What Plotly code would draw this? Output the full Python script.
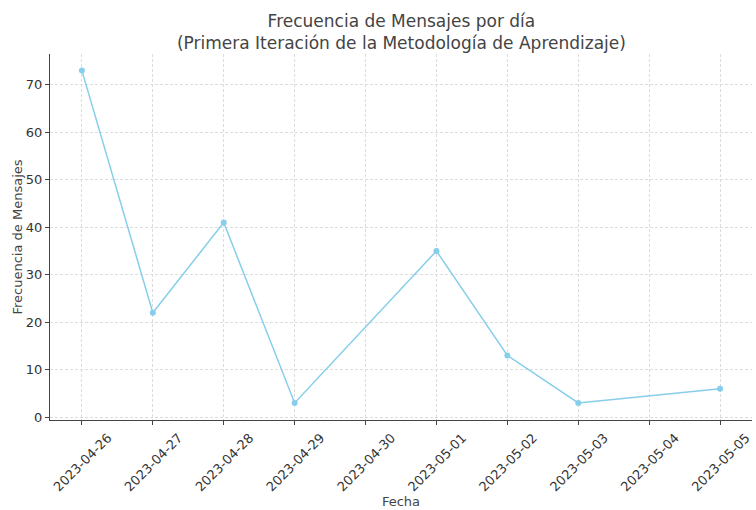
import pandas as pd
import plotly.graph_objects as go

# mensajes por día (04-30 y 05-04 sin datos)
fechas = ["2023-04-26", "2023-04-27", "2023-04-28", "2023-04-29",
          "2023-05-01", "2023-05-02", "2023-05-03", "2023-05-05"]
mensajes = [73, 22, 41, 3, 35, 13, 3, 6]

tick_fechas = ["2023-04-26", "2023-04-27", "2023-04-28", "2023-04-29", "2023-04-30",
               "2023-05-01", "2023-05-02", "2023-05-03", "2023-05-04", "2023-05-05"]
y_ticks = [0, 10, 20, 30, 40, 50, 60, 70]

df = pd.DataFrame({"fecha": pd.to_datetime(fechas), "mensajes": mensajes})

fig = go.Figure()
fig.add_trace(go.Scatter(
    x=df["fecha"],
    y=df["mensajes"],
    mode="lines+markers",
    line=dict(color="#87CEEB", width=1.5),
    marker=dict(color="#87CEEB", size=6),
    showlegend=False
))

start = pd.Timestamp("2023-04-26") - pd.Timedelta(hours=10.8)
end = pd.Timestamp("2023-05-05") + pd.Timedelta(hours=10.8)

axis_font = dict(family="DejaVu Sans", size=13, color="#333333")
title_font = dict(family="DejaVu Sans", size=13, color="#444444")
fig.update_layout(
    width=756,
    height=510,
    paper_bgcolor="white",
    plot_bgcolor="white",
    font=dict(family="DejaVu Sans", color="#333333"),
    title=dict(
        text="Frecuencia de Mensajes por día<br>(Primera Iteración de la Metodología de Aprendizaje)",
        x=0.531, xanchor="center", y=0.947, yanchor="top",
        font=dict(family="DejaVu Sans", size=17, color="#444444")
    ),
    margin=dict(l=50, r=4, t=54, b=90),
    xaxis=dict(
        type="date",
        range=[start, end],
        tickvals=pd.to_datetime(tick_fechas),
        ticktext=tick_fechas,
        tickangle=-45,
        ticklabelshift=26,
        tickfont=axis_font,
        automargin=False,
        ticks="outside", ticklen=4, tickcolor="#444444",
        showline=True, linecolor="#444444", linewidth=1.3,
        showgrid=True, gridcolor="#dcdcdc", griddash="3px,2px", gridwidth=0.8,
        zeroline=False,
        title=dict(text="Fecha", font=title_font, standoff=0)
    ),
    yaxis=dict(
        range=[-0.6, 76.5],
        tickvals=y_ticks,
        tickfont=axis_font,
        automargin=False,
        ticks="outside", ticklen=4, tickcolor="#444444",
        showline=True, linecolor="#444444", linewidth=1.3,
        showgrid=True, gridcolor="#dcdcdc", griddash="3px,2px", gridwidth=0.8,
        zeroline=False,
        title=dict(text="Frecuencia de Mensajes", font=title_font, standoff=0)
    )
)

# quitar el margen por defecto del body para que la figura quepa en la ventana
fig.write_html("out.html", config={"displayModeBar": False},
               post_script="document.body.style.margin='0';")
